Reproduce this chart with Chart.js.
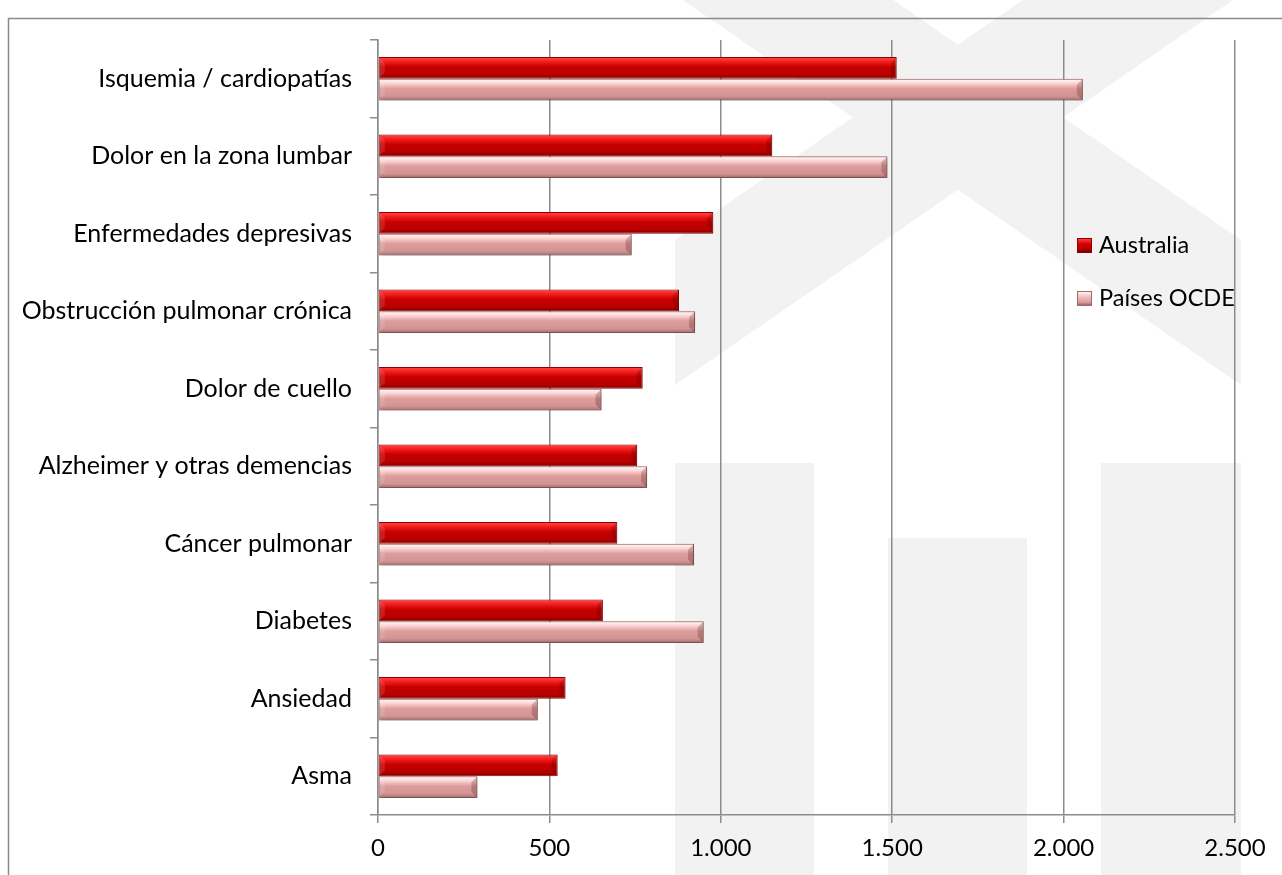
<!DOCTYPE html>
<html>
<head>
<meta charset="utf-8">
<script src="https://cdn.jsdelivr.net/npm/chart.js@4.4.1/dist/chart.umd.min.js"></script>
<style>
html,body{margin:0;padding:0;background:#fff;width:1282px;height:875px;overflow:hidden;}
#wrap{position:relative;width:1282px;height:875px;}
#c{position:absolute;left:0;top:0;}
#legend{position:absolute;left:1077px;top:229px;font-family:Lato,sans-serif;font-size:23.5px;color:#000;}
.li{position:absolute;left:0;white-space:nowrap;height:30px;line-height:30px;}
.sw{display:inline-block;width:15px;height:15px;vertical-align:middle;margin-right:7px;margin-top:-3px;box-sizing:border-box;}
</style>
</head>
<body>
<div id="wrap">
<canvas id="c" width="1282" height="875"></canvas>
<div id="legend"></div>
</div>
<script>
// ---- data ----
const categories = [
  'Isquemia / cardiopatías',
  'Dolor en la zona lumbar',
  'Enfermedades depresivas',
  'Obstrucción pulmonar crónica',
  'Dolor de cuello',
  'Alzheimer y otras demencias',
  'Cáncer pulmonar',
  'Diabetes',
  'Ansiedad',
  'Asma'
];
const seriesNames = ['Australia', 'Países OCDE'];
const australia = [1513, 1150, 978, 878, 772, 756, 698, 656, 547, 524];
const paisesOCDE = [2056, 1486, 740, 925, 652, 785, 922, 950, 466, 290];
const xTickValues = [0, 500, 1000, 1500, 2000, 2500];
const xTickLabels = ['0', '500', '1.000', '1.500', '2.000', '2.500'];

// ---- styles ----
const FONT = 'Lato';
const CAT_PCT = 0.56;
const gradStops = [
  [[0,'#d41414'],[0.07,'#ff3b3b'],[0.22,'#f21c1c'],[0.45,'#c80000'],[0.8,'#b80000'],[0.92,'#980000'],[1,'#700000']],
  [[0,'#e0a0a0'],[0.07,'#fff0f0'],[0.22,'#fbd2d2'],[0.45,'#dd9d9c'],[0.8,'#d29494'],[0.92,'#b97c7c'],[1,'#8c5e5e']]
];
const borderCols = ['#8e0000', '#a06a6a'];
const swatchCss = [
  'linear-gradient(to bottom,#ff3b3b 0%,#d00000 40%,#b00000 80%,#700000 100%)',
  'linear-gradient(to bottom,#fff0f0 0%,#f4c0c0 35%,#d99a9a 80%,#9a6a6a 100%)'
];

function gradientFor(di) {
  return function(ctx) {
    const chart = ctx.chart;
    const ys = chart.scales && chart.scales.y;
    if (!ys || ctx.dataIndex === undefined || ys.bottom === undefined) return gradStops[di][3][1];
    const band = (ys.bottom - ys.top) / categories.length;
    const thick = band * CAT_PCT / 2;
    const center = ys.getPixelForValue(ctx.dataIndex);
    const top = center - band * CAT_PCT / 2 + di * thick;
    const g = chart.ctx.createLinearGradient(0, top, 0, top + thick);
    gradStops[di].forEach(s => g.addColorStop(s[0], s[1]));
    return g;
  };
}

const backdrop = {
  id: 'backdrop',
  beforeDraw(chart) {
    const c = chart.ctx;
    c.save();
    c.fillStyle = '#ffffff';
    c.fillRect(0, 0, chart.width, chart.height);
    c.fillStyle = '#f2f2f2';
    c.beginPath();
    c.rect(675, 0, 566, 875);
    c.clip();
    c.beginPath();
    c.moveTo(675, 240); c.lineTo(1241, -150.5); c.lineTo(1241, -5.5); c.lineTo(675, 385); c.closePath();
    c.fill();
    c.beginPath();
    c.moveTo(1241, 240); c.lineTo(675, -150.5); c.lineTo(675, -5.5); c.lineTo(1241, 385); c.closePath();
    c.fill();
    c.fillRect(675, 463, 139, 420);
    c.fillRect(888, 538, 139, 340);
    c.fillRect(1101, 463, 140, 420);
    c.restore();
    c.save();
    c.strokeStyle = '#8a8a8a';
    c.lineWidth = 1.5;
    c.strokeRect(8.5, 18.5, 1400, 1000);
    c.restore();
  }
};

const shadowPlugin = {
  id: 'barShadow',
  beforeDatasetDraw(chart, args) {
    const c = chart.ctx;
    c.save();
    if (args.index === 1) {
      c.shadowColor = 'rgba(0,0,0,0.32)';
      c.shadowBlur = 6;
      c.shadowOffsetX = 1;
      c.shadowOffsetY = 3;
    }
  },
  afterDatasetDraw(chart, args) {
    const c = chart.ctx;
    c.restore();
    // bevel facets at the bar ends
    const meta = chart.getDatasetMeta(args.index);
    c.save();
    meta.data.forEach(el => {
      const x = el.x, h = el.height, top = el.y - h / 2, bot = el.y + h / 2, b = el.base;
      const d = Math.min(6, h / 3);
      c.beginPath();
      c.moveTo(x, top); c.lineTo(x - d, top + d); c.lineTo(x - d, bot - d); c.lineTo(x, bot); c.closePath();
      c.fillStyle = 'rgba(60,0,0,0.22)';
      c.fill();
      c.beginPath();
      c.moveTo(b, top); c.lineTo(b + d, top + d); c.lineTo(b + d, bot - d); c.lineTo(b, bot); c.closePath();
      c.fillStyle = 'rgba(255,255,255,0.12)';
      c.fill();
    });
    c.restore();
  }
};

Chart.defaults.font.family = FONT;
Chart.defaults.color = '#000';

const datasets = [australia, paisesOCDE].map((vals, i) => ({
  label: seriesNames[i],
  data: vals,
  backgroundColor: gradientFor(i),
  borderColor: borderCols[i],
  borderWidth: 1,
  borderSkipped: false,
  categoryPercentage: CAT_PCT,
  barPercentage: 1
}));

new Chart(document.getElementById('c'), {
  type: 'bar',
  data: { labels: categories, datasets },
  options: {
    indexAxis: 'y',
    responsive: false,
    animation: false,
    devicePixelRatio: 1,
    layout: { padding: { top: 40, right: 47, left: 0, bottom: 0 } },
    plugins: { legend: { display: false }, tooltip: { enabled: false } },
    scales: {
      x: {
        min: 0, max: 2500,
        afterBuildTicks(scale) { scale.ticks = xTickValues.map(v => ({ value: v })); },
        afterFit(scale) { scale.height = 60; },
        ticks: {
          font: { size: 24 },
          color: '#000',
          padding: 11,
          maxRotation: 0,
          callback(v) { const k = xTickValues.indexOf(v); return k >= 0 ? xTickLabels[k] : ''; }
        },
        grid: { color: '#8c8c8c', lineWidth: 1.5, tickLength: 8, drawTicks: true },
        border: { color: '#8c8c8c', width: 1.5 }
      },
      y: {
        afterFit(scale) { scale.width = 378; },
        ticks: { font: { size: 25 }, color: '#000', padding: 18, autoSkip: false },
        grid: { drawOnChartArea: false, drawTicks: true, tickLength: 8, color: '#8c8c8c', lineWidth: 1.5, offset: true },
        border: { color: '#8c8c8c', width: 1.5 }
      }
    }
  },
  plugins: [backdrop, shadowPlugin]
});

// legend
const lg = document.getElementById('legend');
seriesNames.forEach((n, i) => {
  const d = document.createElement('div');
  d.className = 'li';
  d.style.top = (i * 53) + 'px';
  const sw = document.createElement('span');
  sw.className = 'sw';
  sw.style.background = swatchCss[i];
  sw.style.border = '1px solid ' + borderCols[i];
  d.appendChild(sw);
  d.appendChild(document.createTextNode(n));
  lg.appendChild(d);
});
</script>
</body>
</html>
